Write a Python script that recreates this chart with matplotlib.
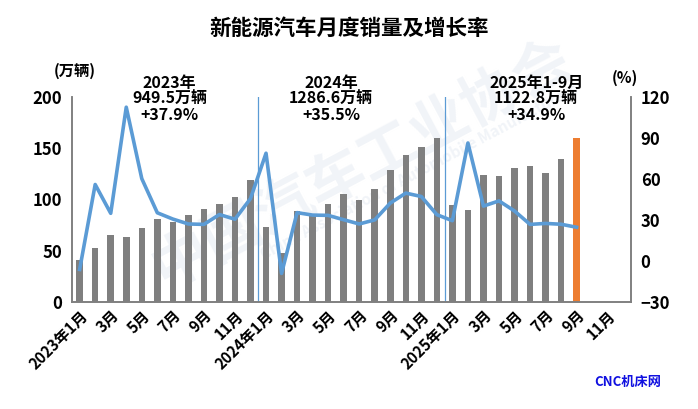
import matplotlib
matplotlib.use("Agg")
import matplotlib.pyplot as plt
import numpy as np

plt.rcParams['font.family'] = ['Noto Sans CJK SC', 'DejaVu Sans']
plt.rcParams['font.weight'] = 'bold'

# -----------------------------
# Data (万辆, %)
# -----------------------------
sales_2023 = [40.8, 52.5, 65.3, 63.6, 71.7, 80.6, 78.0, 84.6, 90.4, 95.6, 102.6, 119.1]
sales_2024 = [72.9, 47.7, 88.3, 85.0, 95.5, 104.9, 99.1, 110.0, 128.7, 143.0, 151.2, 159.5]
sales_2025 = [94.4, 89.4, 123.7, 122.6, 130.7, 132.9, 126.2, 139.5, 160.4]

growth_2023 = [-6.3, 55.9, 34.8, 112.5, 60.2, 35.2, 30.6, 27.0, 26.7, 33.9, 30.5, 45.6]
growth_2024 = [78.8, -9.2, 35.3, 33.5, 33.3, 30.1, 27.0, 30.0, 42.3, 49.6, 47.1, 33.8]
growth_2025 = [29.4, 86.3, 40.1, 43.9, 36.5, 26.7, 27.4, 26.8, 24.6]

months = [f"{m}月" for m in range(1, 13)]
tick_labels = (["2023年1月"] + months[1:] + ["2024年1月"] + months[1:]
               + ["2025年1月"] + months[1:])

year_notes = ["2023年\n949.5万辆\n+37.9%",
              "2024年\n1286.6万辆\n+35.5%",
              "2025年1-9月\n1122.8万辆\n+34.9%"]

sales = sales_2023 + sales_2024 + sales_2025
growth = growth_2023 + growth_2024 + growth_2025

# -----------------------------
# Plot
# -----------------------------
fig = plt.figure(figsize=(6.98, 4.09), dpi=100)

# faint watermark behind everything
fig.text(0.52, 0.60, "中国汽车工业协会", ha='center', va='center', fontsize=42,
         color='#F1F4F8', rotation=28, zorder=-5)
fig.text(0.60, 0.58, "China Association of Automobile Manufacturers", ha='center',
         va='center', fontsize=11, color='#F1F4F8', rotation=28, zorder=-5)

ax = fig.add_axes([0.103, 0.262, 0.801, 0.501])
ax2 = ax.twinx()
ax.patch.set_alpha(0)

x = np.arange(len(sales))
colors = ['#7F7F7F'] * (len(sales) - 1) + ['#ED7D31']
ax.bar(x, sales, width=0.42, color=colors, zorder=2)

ax2.plot(x, growth, color='#5B9BD5', lw=2.6, zorder=3)

for sep in (11.5, 23.5):
    ax.axvline(sep, ymin=0, ymax=1.0, color='#5B9BD5', lw=0.9, zorder=1)

ax.set_xlim(-0.5, 35.5)
ax.set_ylim(0, 200)
ax2.set_ylim(-30, 120)
ax.set_yticks([0, 50, 100, 150, 200])
ax2.set_yticks([-30, 0, 30, 60, 90, 120])

ax.set_xticks(np.arange(0, 36, 2))
ax.set_xticklabels(tick_labels[::2], rotation=45, ha='right',
                   rotation_mode='anchor', fontsize=11, fontweight='bold')
for a in (ax, ax2):
    a.tick_params(axis='both', length=0, labelsize=12, pad=7)
    a.spines['top'].set_visible(False)
    for s in ('left', 'right', 'bottom'):
        a.spines[s].set_color('#808080')
        a.spines[s].set_linewidth(1.2)
ax.tick_params(axis='x', pad=4, labelsize=11)
for lab in ax.get_yticklabels() + ax2.get_yticklabels():
    lab.set_fontweight('bold')

# year summaries
for xc, note in zip([5.8, 16.2, 29.4], year_notes):
    ax.text(xc, 198, note, ha='center', va='center', fontsize=11.5,
            fontweight='bold', linespacing=1.0)

fig.text(0.107, 0.826, "(万辆)", ha='center', va='center', fontsize=11, fontweight='bold')
fig.text(0.895, 0.81, "(%)", ha='center', va='center', fontsize=11, fontweight='bold')

fig.text(0.5, 0.93, "新能源汽车月度销量及增长率", ha='center', va='center',
         fontsize=15.5, fontweight='bold')

fig.text(0.90, 0.065, "CNC机床网", ha='center', va='center', fontsize=9.5,
         fontweight='bold', color='#1010E0')

fig.savefig("out.png", dpi=100)
